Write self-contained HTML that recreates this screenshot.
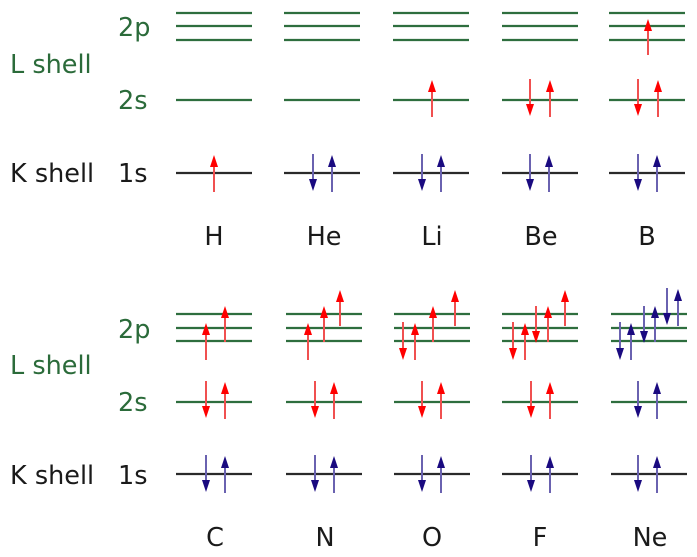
<!DOCTYPE html>
<html><head><meta charset="utf-8"><style>
html,body{margin:0;padding:0;background:#fff;}
svg{display:block;}
text{font-family:"DejaVu Sans","Liberation Sans",sans-serif;font-size:25.5px;}
.g{fill:#2b6b3a}.k{fill:#1a1a1a}
</style></head><body>
<svg id="s" width="697" height="557" viewBox="0 0 697 557" xmlns="http://www.w3.org/2000/svg">
<text x="118" y="36" class="g">2p</text>
<text x="10" y="73" class="g">L shell</text>
<text x="118" y="109" class="g">2s</text>
<text x="10" y="182" class="k">K shell</text>
<text x="118" y="182" class="k">1s</text>
<text x="118" y="338" class="g">2p</text>
<text x="10" y="374" class="g">L shell</text>
<text x="118" y="411" class="g">2s</text>
<text x="10" y="484" class="k">K shell</text>
<text x="118" y="484" class="k">1s</text>
<g text-anchor="middle" class="k">
<text x="214" y="245">H</text><text x="324" y="245">He</text><text x="432" y="245">Li</text><text x="541" y="245">Be</text><text x="647" y="245">B</text>
<text x="215" y="546">C</text><text x="325" y="546">N</text><text x="432" y="546">O</text><text x="540" y="546">F</text><text x="650" y="546">Ne</text>
</g>
<g id="L" stroke-width="2.2"></g>
<g id="A"></g>
</svg>
<script>
(function(){
var L=document.getElementById('L'),A=document.getElementById('A'),ns='http://www.w3.org/2000/svg';
function el(p,t,a){var e=document.createElementNS(ns,t);for(var k in a)e.setAttribute(k,a[k]);p.appendChild(e);}
var G='#2e6e3e',K='#2a2a2a';
var tp=[176,284,393,502,609],bt=[176,286,394,502,611];
tp.forEach(function(x){[13,26,40].forEach(function(y){el(L,'line',{x1:x,x2:x+76,y1:y,y2:y,stroke:G});});
el(L,'line',{x1:x,x2:x+76,y1:100,y2:100,stroke:G});el(L,'line',{x1:x,x2:x+76,y1:173,y2:173,stroke:K});});
bt.forEach(function(x){[314,328,341].forEach(function(y){el(L,'line',{x1:x,x2:x+76,y1:y,y2:y,stroke:G});});
el(L,'line',{x1:x,x2:x+76,y1:402,y2:402,stroke:G});el(L,'line',{x1:x,x2:x+76,y1:474,y2:474,stroke:K});});
function ar(x,t,h,c){var shaft=c=='r'?'#f05050':'#6a62b0',head=c=='r'?'#ff0000':'#1a0a80';
var d=h<t?1:-1,hb=h+d*12;
el(A,'line',{x1:x,x2:x,y1:t,y2:hb,stroke:shaft,'stroke-width':2});
el(A,'polygon',{points:(x-4)+','+hb+' '+(x+4)+','+hb+' '+x+','+h,fill:head});}
function up(x,y,c){ar(x,y+19,y-18,c);} function dn(x,y,c){ar(x,y-19,y+18,c);}
up(214,173,'r');
[313,422,530,638].forEach(function(x){dn(x,173,'b');up(x+19,173,'b');});
up(432,98,'r');dn(530,98,'r');up(550,98,'r');dn(638,98,'r');up(658,98,'r');
ar(648,55,19,'r');
[206,315,422,531,638].forEach(function(x,i){dn(x,474,'b');up(x+19,474,'b');
var c=i==4?'b':'r';dn(x,400,c);up(x+19,400,c);});
ar(206,360,323,'r');ar(225,342,306,'r');
ar(308,360,323,'r');ar(324,342,306,'r');ar(340,326,290,'r');
ar(403,322,360,'r');ar(415,360,323,'r');ar(433,342,306,'r');ar(455,326,290,'r');
ar(513,322,360,'r');ar(525,360,323,'r');ar(536,306,343,'r');ar(548,342,306,'r');ar(565,326,290,'r');
ar(620,322,360,'b');ar(631,360,323,'b');ar(644,306,343,'b');ar(655,342,306,'b');ar(667,288,325,'b');ar(678,326,289,'b');
})();
</script>
</body></html>
